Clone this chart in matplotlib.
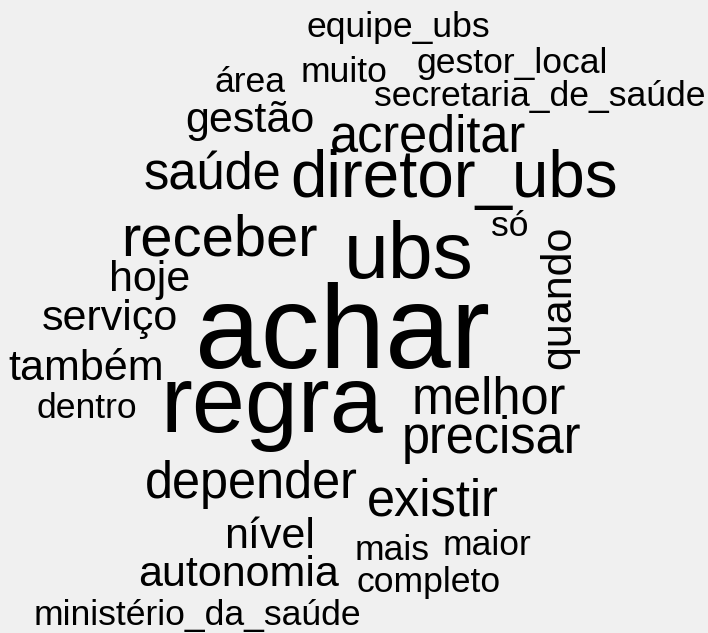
import matplotlib
matplotlib.use("Agg")
import matplotlib.pyplot as plt

# word frequencies
words = ["achar", "regra", "ubs", "diretor_ubs", "receber",
         "acreditar", "saúde", "melhor", "precisar", "depender", "existir",
         "gestão", "quando", "hoje", "serviço", "também", "nível", "autonomia",
         "equipe_ubs", "muito", "área", "gestor_local", "secretaria_de_saúde",
         "só", "dentro", "mais", "maior", "completo", "ministério_da_saúde"]
freqs = [13, 10, 8, 6, 5,
         4, 4, 4, 4, 4, 4,
         3, 3, 3, 3, 3, 3, 3,
         2, 2, 2, 2, 2,
         2, 2, 2, 2, 2, 2]

# layout of the cloud (pixel centre x, baseline y, rotation)
layout = {
    "achar": (343, 368, 0), "regra": (272, 432, 0), "ubs": (409, 278, 0),
    "diretor_ubs": (454, 197, 0), "receber": (219, 255, 0),
    "acreditar": (428, 152, 0), "saúde": (212, 189, 0), "melhor": (489, 413, 0),
    "precisar": (492, 453, 0), "depender": (251, 498, 0), "existir": (433, 515, 0),
    "gestão": (250, 132, 0), "quando": (570, 297, 90), "hoje": (150, 291, 0),
    "serviço": (110, 330, 0), "também": (86, 380, 0), "nível": (270, 548, 0),
    "autonomia": (239, 586, 0), "equipe_ubs": (398, 37, 0), "muito": (344, 82, 0),
    "área": (250, 92, 0), "gestor_local": (512, 73, 0),
    "secretaria_de_saúde": (540, 106, 0), "só": (510, 236, 0),
    "dentro": (87, 418, 0), "mais": (392, 560, 0), "maior": (487, 555, 0),
    "completo": (429, 592, 0), "ministério_da_saúde": (197, 625, 0),
}

W, H = 708, 633
bg = "#f0f0f0"


def font_size(freq, fmin=2, fmax=13, smin=35.5, smax=118):
    # linear scale like R wordcloud, pixels -> points
    px = smin + (smax - smin) * (freq - fmin) / (fmax - fmin)
    return px * 0.72


fig = plt.figure(figsize=(W / 100, H / 100), dpi=100, facecolor=bg)
ax = fig.add_axes([0, 0, 1, 1])
ax.set_facecolor(bg)
ax.set_xlim(0, W)
ax.set_ylim(H, 0)
ax.axis("off")

for w, fq in zip(words, freqs):
    x, y, rot = layout[w]
    ax.text(x, y, w, fontsize=font_size(fq), family="Liberation Sans",
            color="black", ha="center", va="baseline",
            rotation=rot, rotation_mode="anchor")

fig.savefig("out.png", dpi=100, facecolor=bg)
